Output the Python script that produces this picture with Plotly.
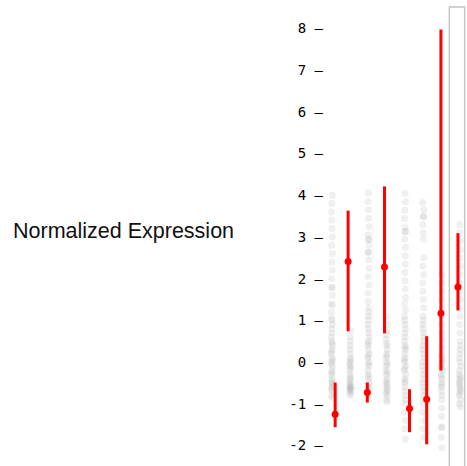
import plotly.graph_objects as go

# ---- data ----
categories = ["G1", "G2", "G3", "G4", "G5", "G6", "G7", "G8"]

grey_1 = [4.0, 3.8, 3.6, 3.4, 3.2, 3.0, 2.8, 2.6, 2.4, 2.2, 2.0, 1.8, 1.78, 1.6, 1.4, 1.36, 1.2,
          1.05, 1.0, 0.9, 0.8, 0.7, 0.6, 0.5, 0.45, 0.4, 0.3, 0.25, 0.2, 0.1, 0.05, 0.0, -0.05,
          -0.1, -0.2, -0.25, -0.3, -0.4, -0.45, -0.5, -0.55, -0.6, -0.65, -0.7, -0.8, -0.85]
grey_2 = [0.75, 0.6, 0.5, 0.4, 0.3, 0.2, 0.1, 0.05, 0.0, -0.05, -0.1, -0.15, -0.2, -0.3, -0.35,
          -0.4, -0.45, -0.5, -0.55, -0.58, -0.6, -0.62, -0.65, -0.68, -0.7, -0.75, -0.8]
grey_3 = [4.05, 3.85, 3.65, 3.45, 3.25, 3.05, 2.94, 2.94, 2.8, 2.63, 2.63, 2.45, 2.25, 2.05, 1.85,
          1.65, 1.45, 1.3, 1.2, 1.1, 1.0, 0.9, 0.8, 0.7, 0.6, 0.5, 0.45, 0.4, 0.3, 0.2, 0.15, 0.1,
          0.0, -0.05, -0.1, -0.2, -0.3, -0.35, -0.4, -0.5, -0.55, -0.6, -0.65, -0.7, -0.8]
grey_4 = [1.1, 0.9, 0.75, 0.65, 0.55, 0.45, 0.4, 0.3, 0.2, 0.15, 0.1, 0.0, -0.05, -0.1, -0.2,
          -0.25, -0.3, -0.4, -0.45, -0.5, -0.55, -0.6, -0.65, -0.7, -0.75, -0.8, -0.9, -0.95]
grey_5 = [4.04, 3.84, 3.64, 3.44, 3.24, 3.13, 3.13, 2.95, 2.75, 2.55, 2.35, 2.15, 1.95, 1.75, 1.55,
          1.4, 1.25, 1.1, 1.0, 0.9, 0.8, 0.7, 0.6, 0.5, 0.4, 0.35, 0.3, 0.2, 0.1, 0.05, 0.0, -0.1,
          -0.15, -0.2, -0.3, -0.4, -0.45, -0.5, -0.6, -0.7, -0.8, -0.9, -1.0, -1.2, -1.4, -1.6, -1.85]
grey_6 = [3.83, 3.65, 3.49, 3.49, 3.3, 3.1, 2.95, 2.5, 2.3, 2.1, 1.9, 1.7, 1.5, 1.3, 1.1, 1.0, 0.9,
          0.8, 0.7, 0.6, 0.5, 0.4, 0.3, 0.2, 0.1, 0.0, -0.1, -0.2, -0.3, -0.4, -0.5, -0.6, -0.7,
          -0.8, -0.9, -1.0, -1.2, -1.4, -1.6, -1.8]
grey_7 = [2.1, 1.9, 1.7, 1.5, 1.3, 1.1, 0.9, 0.7, 0.55, 0.4, 0.3, 0.2, 0.15, 0.1, 0.05, 0.0, -0.05,
          -0.1, -0.15, -0.2, -0.3, -0.35, -0.4, -0.5, -0.55, -0.6, -0.7, -0.8, -0.9, -1.1, -1.3,
          -1.56, -1.56, -1.8, -2.05]
grey_8 = [3.3, 3.1, 2.9, 2.7, 2.5, 2.3, 2.1, 1.9, 1.7, 1.5, 1.3, 1.1, 0.9, 0.7, 0.5, 0.4, 0.3, 0.2,
          0.1, 0.0, -0.1, -0.2, -0.3, -0.35, -0.4, -0.45, -0.5, -0.55, -0.6, -0.65, -0.7, -0.75,
          -0.8, -0.9, -1.0, -1.08]
grey_values = [grey_1, grey_2, grey_3, grey_4, grey_5, grey_6, grey_7, grey_8]

red_mean = [-1.25, 2.41, -0.73, 2.28, -1.11, -0.89, 1.17, 1.80]
red_low = [-1.56, 0.74, -0.97, 0.69, -1.68, -1.97, -0.20, 1.24]
red_high = [-0.49, 3.63, -0.49, 4.21, -0.65, 0.62, 7.97, 3.09]

y_tick_vals = [-2, -1, 0, 1, 2, 3, 4, 5, 6, 7, 8]
y_tick_text = [f"{v} \u2013" for v in y_tick_vals]
y_title = "Normalized Expression"

# ---- styling / layout constants ----
red_dodge = [0.17, -0.12, -0.07, -0.13, 0.24, 0.18, -0.04, -0.11]

fig = go.Figure()

for i, vals in enumerate(grey_values):
    fig.add_trace(go.Box(
        x=[i] * len(vals), y=vals,
        boxpoints="all", jitter=0.2, pointpos=0, width=0.5,
        fillcolor="rgba(0,0,0,0)", line=dict(color="rgba(0,0,0,0)", width=0),
        marker=dict(color="rgba(150,150,150,0.14)", size=7, line=dict(width=0)),
        showlegend=False, hoverinfo="y",
    ))

red_x = [i + d for i, d in enumerate(red_dodge)]
fig.add_trace(go.Scatter(
    x=red_x, y=red_mean, mode="markers",
    marker=dict(color="#ff0000", size=7),
    error_y=dict(type="data", symmetric=False,
                 array=[h - m for h, m in zip(red_high, red_mean)],
                 arrayminus=[m - l for m, l in zip(red_mean, red_low)],
                 color="#ff0000", thickness=3, width=0),
    showlegend=False,
))

# highlight frame around the last category
fig.add_shape(type="rect", xref="x", yref="paper",
              x0=len(categories) - 1 - 0.58, x1=len(categories) - 1 + 0.26,
              y0=-0.1, y1=1.0,
              line=dict(color="#c4c4c4", width=1.5), fillcolor="rgba(0,0,0,0)")

fig.add_annotation(text=y_title, xref="paper", yref="paper",
                   x=-2.186, y=0.512, xanchor="left", yanchor="middle",
                   showarrow=False,
                   font=dict(family="Liberation Sans, Arial", size=21.5, color="#111111"))

fig.update_layout(
    width=467, height=466,
    margin=dict(l=324, r=0, t=7, b=0),
    paper_bgcolor="white", plot_bgcolor="white",
    xaxis=dict(range=[-0.44, 7.386], showgrid=False, zeroline=False,
               showticklabels=False, ticks="", showline=False),
    yaxis=dict(range=[-2.49, 8.51], showgrid=False, zeroline=False, showline=False,
               tickvals=y_tick_vals, ticktext=y_tick_text, ticks="",
               tickfont=dict(family="DejaVu Sans Mono", size=14, color="#000000")),
    boxmode="overlay",
)

fig.write_html("out.html", config={"displayModeBar": False},
               post_script="document.body.style.margin='0';document.body.style.overflow='hidden';")
